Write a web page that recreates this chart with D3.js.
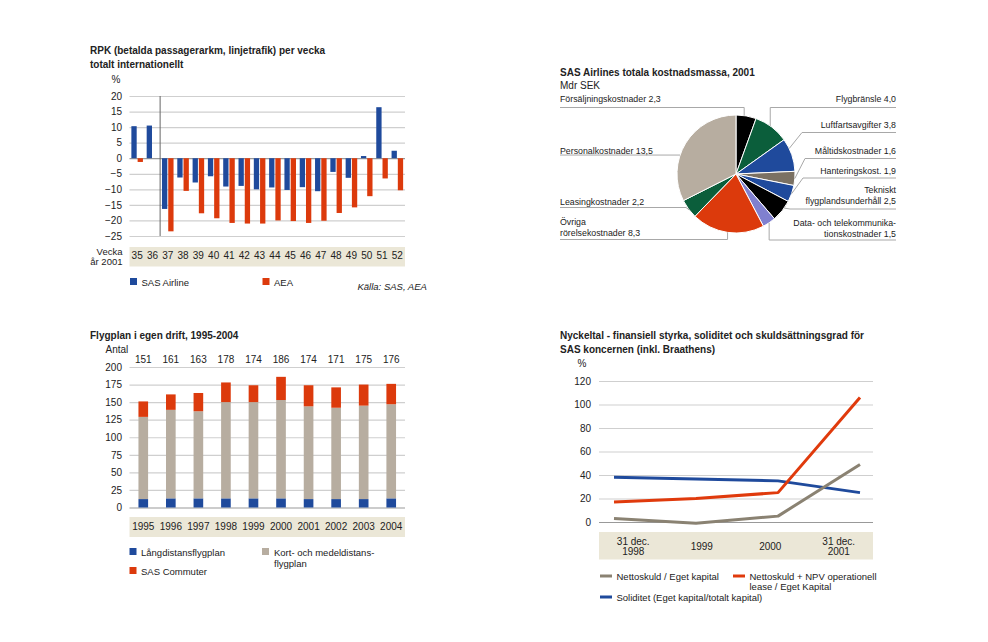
<!DOCTYPE html>
<html>
<head>
<meta charset="utf-8">
<script src="https://cdn.jsdelivr.net/npm/d3@7"></script>
<style>
  body { margin: 0; background: #fff; }
  svg { font-family: "Liberation Sans", Arial, sans-serif; fill: #222; }
  .tick text { font-size: 10px; fill: #222; }
</style>
</head>
<body>
<svg id="chart" width="988" height="642"></svg>
<script>
// --- RPK per vecka
const weeks = ['35','36','37','38','39','40','41','42','43','44','45','46','47','48','49','50','51','52'];
const sasAirline = [10.3, 10.5, -16.3, -6.2, -7.8, -5.8, -9.1, -8.9, -10, -9.4, -10.2, -9.3, -10.6, -4.4, -6.3, 0.7, 16.4, 2.4];
const aea = [-1.2, 0, -23.5, -10.5, -17.7, -19.3, -20.8, -21, -21, -20, -20.2, -20.8, -20.1, -17.6, -15.8, -12.2, -6.5, -10.3];
const rpkTicks = [20, 15, 10, 5, 0, -5, -10, -15, -20, -25];

// --- kostnadsmassa
const costNames = ['Försäljningskostnader 2,3', 'Flygbränsle 4,0', 'Luftfartsavgifter 3,8', 'Måltidskostnader 1,6',
  'Hanteringskost. 1,9', 'Tekniskt|flygplandsunderhåll 2,5', 'Data- och telekommunika-|tionskostnader 1,5',
  'Övriga|rörelsekostnader 8,3', 'Leasingkostnader 2,2', 'Personalkostnader 13,5'];
const costValues = [2.3, 4.0, 3.8, 1.6, 1.9, 2.5, 1.5, 8.3, 2.2, 13.5];
const costColors = ['#000000', '#0b5e3b', '#1f4a9c', '#7b7163', '#1f4a9c', '#000000', '#8080cf', '#dc3a0c', '#0b5e3b', '#b7ada0'];

// --- flygplan
const years = ['1995','1996','1997','1998','1999','2000','2001','2002','2003','2004'];
const longHaul = [12, 13, 13, 13, 13, 13, 12, 12, 12, 13];
const shortHaul = [117, 126, 124, 137, 137, 140, 132, 130, 133, 134];
const commuter = [22, 22, 26, 28, 24, 33, 30, 29, 30, 29];
const fleetTotals = [151, 161, 163, 178, 174, 186, 174, 171, 175, 176];
const fleetTicks = [0, 25, 50, 75, 100, 125, 150, 175, 200];

// --- nyckeltal
const periods = ['31 dec.|1998', '1999', '2000', '31 dec.|2001'];
const netDebt = [3, -1, 5, 49];
const netDebtNpv = [17, 20, 25, 106];
const solidity = [38, 36.5, 35, 25];
const ratioTicks = [0, 20, 40, 60, 80, 100, 120];

const BLUE = '#1f4a9c', RED = '#dc3a0c', BEIGE = '#b7ada0', BAND = '#ebe7d7', GRID = '#cfcfcf';

const svg = d3.select('#chart');

function multiText(g, x, y, str, lh, anchor, size) {
  str.split('|').forEach((s, i) => {
    g.append('text').attr('x', x).attr('y', y + i * lh)
      .attr('text-anchor', anchor || 'start')
      .style('font-size', (size || 9.5) + 'px').text(s);
  });
}

function gridAxis(g, y, ticks, x0, x1, labelX) {
  const ax = g.append('g')
    .attr('transform', `translate(${x0},0)`)
    .call(d3.axisLeft(y).tickValues(ticks).tickSize(-(x1 - x0)).tickPadding(x0 - labelX));
  ax.select('.domain').remove();
  ax.selectAll('.tick line').attr('stroke', GRID).attr('stroke-width', 1.2);
  ax.selectAll('.tick').filter(d => d === 0).select('line').attr('stroke', '#999');
  return ax;
}

// ================= Panel 1: RPK =================
{
  const g = svg.append('g');
  multiText(g, 90, 54, 'RPK (betalda passagerarkm, linjetrafik) per vecka|totalt internationellt', 14, 'start', 10);
  g.selectAll('text').style('font-weight', 'bold');
  g.append('text').attr('x', 116).attr('y', 83).attr('text-anchor', 'middle').style('font-size', '10px').text('%');

  const x0 = d3.scaleBand().domain(weeks).range([129.5, 405]);
  const x1 = d3.scaleBand().domain(['sas', 'aea']).range([0, x0.bandwidth()]).paddingInner(0.15).paddingOuter(0.3);
  const y = d3.scaleLinear().domain([-25, 20]).range([236, 96]);

  gridAxis(g, y, rpkTicks, 129.5, 405, 122)
    .selectAll('.tick text').text(d => d < 0 ? '\u2212' + Math.abs(d) : d);

  const rows = weeks.map((w, i) => ({ w, sas: sasAirline[i], aea: aea[i] }));
  const grp = g.selectAll('.wk').data(rows).enter().append('g')
    .attr('transform', d => `translate(${x0(d.w)},0)`);
  grp.append('rect').attr('x', x1('sas')).attr('width', x1.bandwidth())
    .attr('y', d => y(Math.max(0, d.sas))).attr('height', d => Math.abs(y(d.sas) - y(0)))
    .attr('fill', BLUE);
  grp.append('rect').attr('x', x1('aea')).attr('width', x1.bandwidth())
    .attr('y', d => y(Math.max(0, d.aea))).attr('height', d => Math.abs(y(d.aea) - y(0)))
    .attr('fill', RED);

  // separator between week 36 and 37
  g.append('line').attr('x1', x0('37')).attr('x2', x0('37'))
    .attr('y1', y(20)).attr('y2', y(-25)).attr('stroke', '#666').attr('stroke-width', 1);

  g.append('rect').attr('x', 129.5).attr('y', 247).attr('width', 405 - 129.5).attr('height', 19.5).attr('fill', BAND);
  const xa = g.append('g').attr('transform', 'translate(0,252)')
    .call(d3.axisBottom(x0).tickSize(0).tickPadding(0));
  xa.select('.domain').remove();
  xa.selectAll('text').attr('dy', '0.7em').style('font-size', '10px');
  multiText(g, 122.5, 255, 'Vecka|år 2001', 9.5, 'end', 9.5);

  g.append('rect').attr('x', 130).attr('y', 278).attr('width', 7).attr('height', 7).attr('fill', BLUE);
  g.append('text').attr('x', 141.5).attr('y', 286).style('font-size', '9.5px').text('SAS Airline');
  g.append('rect').attr('x', 262.5).attr('y', 278).attr('width', 7).attr('height', 7).attr('fill', RED);
  g.append('text').attr('x', 274).attr('y', 286).style('font-size', '9.5px').text('AEA');
  g.append('text').attr('x', 357.5).attr('y', 290).style('font-size', '9.5px').style('font-style', 'italic').text('Källa: SAS, AEA');
}

// ================= Panel 2: pie =================
{
  const g = svg.append('g');
  g.append('text').attr('x', 560).attr('y', 75.5).style('font-size', '10px').style('font-weight', 'bold')
    .text('SAS Airlines totala kostnadsmassa, 2001');
  g.append('text').attr('x', 560).attr('y', 89).style('font-size', '10px').text('Mdr SEK');

  const cx = 736, cy = 174, r = 59;
  const pie = d3.pie().sort(null).value(d => d)(costValues);
  const arc = d3.arc().innerRadius(0).outerRadius(r);
  const pg = g.append('g').attr('transform', `translate(${cx},${cy})`);
  pg.selectAll('path').data(pie).enter().append('path')
    .attr('d', arc).attr('fill', (d, i) => costColors[i])
    .attr('stroke', '#fff').attr('stroke-width', 1);

  // label layout: side, text baseline, underline y, hit fraction in slice, knee ('v' = vertical, 'h' = straight, or [x,y])
  const layout = [
    { side: 'L', ty: 102, uy: 107.5, f: 0.4, knee: 'v' },
    { side: 'R', ty: 102, uy: 107.5, f: 0.45, knee: 'v' },
    { side: 'R', ty: 128, uy: 132.5, f: 0.3, knee: [802, 132.5] },
    { side: 'R', ty: 154, uy: 158.5, f: 0.5, knee: [805, 158.5] },
    { side: 'R', ty: 174, uy: 178, f: 0.5, knee: [803, 178] },
    { side: 'R', ty: 193, uy: 209, f: 0.35, knee: [790, 209] },
    { side: 'R', ty: 226, uy: 240, f: 0.5, knee: 'v' },
    { side: 'L', ty: 225, uy: 239.5, f: 0.5, knee: 'v' },
    { side: 'L', ty: 205, uy: 207.5, f: 0.45, knee: [686, 207.5] },
    { side: 'L', ty: 154, uy: 155, f: 0.39, knee: 'h' }
  ];
  pie.forEach((d, i) => {
    const L = layout[i];
    const a = d.startAngle + (d.endAngle - d.startAngle) * L.f;
    const ex = cx + r * Math.sin(a), ey = cy - r * Math.cos(a);
    let kx, ky;
    if (L.knee === 'v') { kx = ex; ky = L.uy; }
    else if (L.knee === 'h') { kx = ex; ky = ey; }
    else { kx = L.knee[0]; ky = L.knee[1]; }
    const endX = L.side === 'L' ? 560 : 896;
    g.append('path')
      .attr('d', d3.line()([[ex, ey], [kx, ky], [endX, ky]]))
      .attr('fill', 'none').attr('stroke', '#a8a8a8').attr('stroke-width', 1);
    multiText(g, endX, L.ty, costNames[i], 11, L.side === 'L' ? 'start' : 'end', 8.8);
  });
}

// ================= Panel 3: flygplan =================
{
  const g = svg.append('g');
  g.append('text').attr('x', 90).attr('y', 339).style('font-size', '10px').style('font-weight', 'bold')
    .text('Flygplan i egen drift, 1995-2004');
  g.append('text').attr('x', 105.5).attr('y', 353).style('font-size', '10px').text('Antal');

  const x = d3.scaleBand().domain(years).range([129.5, 405]).paddingInner(0.65).paddingOuter(0.325);
  const y = d3.scaleLinear().domain([0, 200]).range([507.5, 367]);
  gridAxis(g, y, fleetTicks, 129.5, 405, 122);

  const rows = years.map((yr, i) => ({ yr, long: longHaul[i], short: shortHaul[i], comm: commuter[i] }));
  const stack = d3.stack().keys(['long', 'short', 'comm'])(rows);
  const colors = { long: BLUE, short: BEIGE, comm: RED };
  g.selectAll('.layer').data(stack).enter().append('g').attr('fill', d => colors[d.key])
    .selectAll('rect').data(d => d).enter().append('rect')
    .attr('x', d => x(d.data.yr)).attr('width', x.bandwidth())
    .attr('y', d => y(d[1])).attr('height', d => y(d[0]) - y(d[1]));

  g.selectAll('.tot').data(fleetTotals).enter().append('text')
    .attr('x', (d, i) => x(years[i]) + x.bandwidth() / 2).attr('y', 363)
    .attr('text-anchor', 'middle').style('font-size', '10px').text(d => d);

  g.append('rect').attr('x', 129.5).attr('y', 517).attr('width', 405 - 129.5).attr('height', 20).attr('fill', BAND);
  const xa = g.append('g').attr('transform', 'translate(0,523)')
    .call(d3.axisBottom(x).tickSize(0).tickPadding(0));
  xa.select('.domain').remove();
  xa.selectAll('text').attr('dy', '0.7em').style('font-size', '10px');

  g.append('rect').attr('x', 129.5).attr('y', 548).attr('width', 7).attr('height', 7).attr('fill', BLUE);
  g.append('text').attr('x', 141).attr('y', 555.5).style('font-size', '9.5px').text('Långdistansflygplan');
  g.append('rect').attr('x', 262).attr('y', 548).attr('width', 7).attr('height', 7).attr('fill', BEIGE);
  multiText(g, 274, 555.5, 'Kort- och medeldistans-|flygplan', 11, 'start', 9.5);
  g.append('rect').attr('x', 129.5).attr('y', 567).attr('width', 7).attr('height', 7).attr('fill', RED);
  g.append('text').attr('x', 141).attr('y', 574.5).style('font-size', '9.5px').text('SAS Commuter');
}

// ================= Panel 4: nyckeltal =================
{
  const g = svg.append('g');
  multiText(g, 560, 339, 'Nyckeltal - finansiell styrka, soliditet och skuldsättningsgrad för|SAS koncernen (inkl. Braathens)', 14, 'start', 10);
  g.selectAll('text').style('font-weight', 'bold');
  g.append('text').attr('x', 582).attr('y', 367).attr('text-anchor', 'middle').style('font-size', '10px').text('%');

  const xb = d3.scaleBand().domain(periods).range([599, 873]);
  const xp = d3.scalePoint().domain(periods).range([614, 860]);
  const y = d3.scaleLinear().domain([0, 120]).range([522, 381]);
  gridAxis(g, y, ratioTicks, 599, 873, 591);

  g.append('rect').attr('x', 599).attr('y', 532).attr('width', 873 - 599).attr('height', 27.5).attr('fill', BAND);
  periods.forEach(p => {
    const parts = p.split('|');
    const y0 = parts.length === 2 ? 544.5 : 549.5;
    multiText(g, xb(p) + xb.bandwidth() / 2, y0, p, 10.5, 'middle', 10);
  });

  const series = [
    { vals: netDebt, color: '#8a8272' },
    { vals: netDebtNpv, color: '#e03a0c' },
    { vals: solidity, color: BLUE }
  ];
  const line = d3.line().x((d, i) => xp(periods[i])).y(d => y(d));
  // blue first, then gray, then red on top
  [series[2], series[0], series[1]].forEach(s => {
    g.append('path').datum(s.vals).attr('d', line)
      .attr('fill', 'none').attr('stroke', s.color).attr('stroke-width', 3).attr('stroke-linejoin', 'round');
  });

  const leg = [
    { x: 600, y: 576, color: '#8a8272', text: 'Nettoskuld / Eget kapital' },
    { x: 733, y: 576, color: '#e03a0c', text: 'Nettoskuld + NPV operationell|lease / Eget Kapital' },
    { x: 600, y: 597, color: BLUE, text: 'Soliditet (Eget kapital/totalt kapital)' }
  ];
  leg.forEach(l => {
    g.append('line').attr('x1', l.x).attr('x2', l.x + 12).attr('y1', l.y).attr('y2', l.y)
      .attr('stroke', l.color).attr('stroke-width', 3);
    multiText(g, l.x + 16.5, l.y + 3.8, l.text, 10.5, 'start', 9.5);
  });
}
</script>
</body>
</html>
